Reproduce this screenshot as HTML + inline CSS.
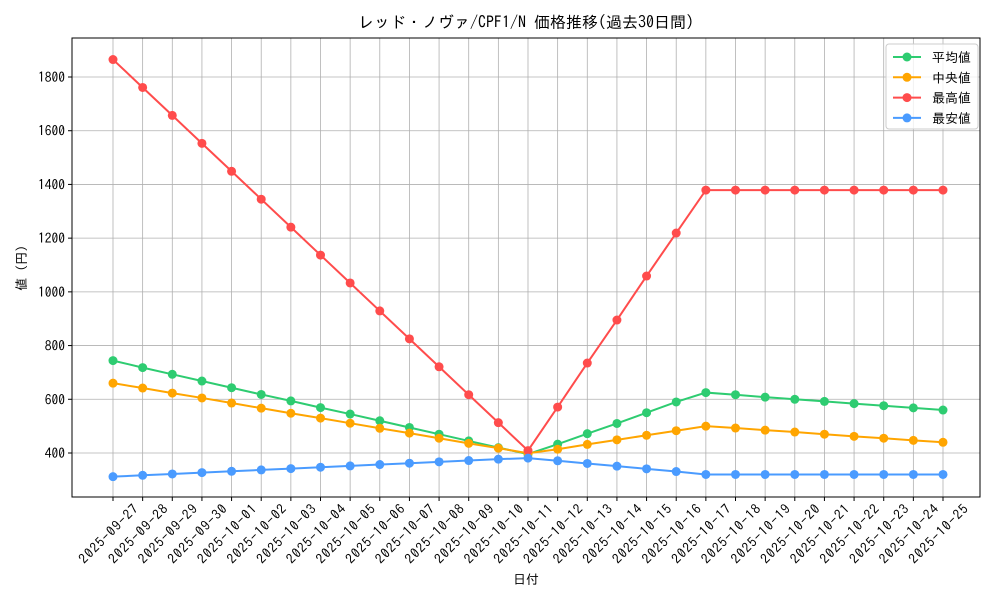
<!DOCTYPE html>
<html><head><meta charset="utf-8"><style>
body{margin:0;background:#fff}
svg text{font-family:"IPAGothic","Noto Sans CJK JP",sans-serif;fill:#000}
</style></head><body>
<svg id="c" width="1000" height="600"></svg>
<script>
const dates=["2025-09-27","2025-09-28","2025-09-29","2025-09-30","2025-10-01","2025-10-02","2025-10-03","2025-10-04","2025-10-05","2025-10-06","2025-10-07","2025-10-08","2025-10-09","2025-10-10","2025-10-11","2025-10-12","2025-10-13","2025-10-14","2025-10-15","2025-10-16","2025-10-17","2025-10-18","2025-10-19","2025-10-20","2025-10-21","2025-10-22","2025-10-23","2025-10-24","2025-10-25"];
const avgVals=[744,718,693,668,643,618,594,569,545,520,495,470,445,420,396,433,472,510,550,590,625,617,608,600,592,584,576,568,560];
const medVals=[660,642,623,605,586,567,548,530,511,492,474,455,436,418,399,414,432,449,466,483,500,493,485,478,470,462,455,447,440];
const maxVals=[1865,1761,1657,1553,1449,1345,1241,1137,1033,929,825,721,617,513,409,571,735,895,1059,1219,1379,1379,1379,1379,1379,1379,1379,1379,1379];
const minVals=[312,317,322,327,332,337,342,347,352,357,362,367,372,377,381,371,361,351,341,331,320,320,320,320,320,320,320,320,320];
const yTicks=[400,600,800,1000,1200,1400,1600,1800];
const seriesNames=["平均値","中央値","最高値","最安値"];
const NS="http://www.w3.org/2000/svg";
const svg=document.getElementById('c');
const L=72,R=980,T=38,B=497;
const x=i=>113+i*(943-113)/(dates.length-1);
const y=v=>453-(v-400)*(453-77)/1400;
function mk(t,a,p){const e=document.createElementNS(NS,t);for(const k in a)e.setAttribute(k,a[k]);(p||svg).appendChild(e);return e;}
yTicks.forEach(v=>{
 const g=mk('line',{x1:L,x2:R,y1:y(v),y2:y(v),stroke:'#b0b0b0','stroke-width':0.8});
 
 
 mk('line',{x1:L-4,x2:L,y1:y(v),y2:y(v),stroke:'#000'});
 const t=mk('text',{x:L-7,y:y(v)+5,'text-anchor':'end','font-size':13.5});t.textContent=v;
 
 
});
dates.forEach((d,i)=>{
 const g=mk('line',{x1:x(i),x2:x(i),y1:T,y2:B,stroke:'#b0b0b0','stroke-width':0.8});
 
 
 mk('line',{x1:x(i),x2:x(i),y1:B,y2:B+4,stroke:'#000'});
 const ax=x(i)+26,ay=B+13;
 const t=mk('text',{x:ax,y:ay,'text-anchor':'end','font-size':13.5,textLength:77,lengthAdjust:'spacing',transform:`rotate(-45 ${ax} ${ay})`});t.textContent=d;
 
 
});
const fr=mk('rect',{x:L,y:T,width:R-L,height:B-T,fill:'none',stroke:'#000','stroke-width':1});


const series=[[avgVals,'#2ecc71'],[medVals,'#ffa500'],[maxVals,'#ff4c4c'],[minVals,'#4a9bff']];
series.forEach(([vals,col],si)=>{
 const g=mk('g',{});
 
 
 mk('polyline',{points:vals.map((v,i)=>x(i)+','+y(v)).join(' '),fill:'none',stroke:col,'stroke-width':2},g);
 vals.forEach((v,i)=>{const c=mk('circle',{cx:x(i),cy:y(v),r:4.5,fill:col},g);
  
  });
});
const lg=mk('g',{});


mk('rect',{x:886,y:44,width:92,height:85,rx:3,fill:'#fff',stroke:'#ccc','fill-opacity':0.8},lg);
seriesNames.forEach((n,i)=>{
 const yy=57+i*20.3,col=series[i][1];
 const e=mk('g',{},lg);
 
 
 mk('line',{x1:893,x2:921,y1:yy,y2:yy,stroke:col,'stroke-width':2},e);
 mk('circle',{cx:907,cy:yy,r:4.5,fill:col},e);
 const t=mk('text',{x:932,y:yy+5,'font-size':13},e);t.textContent=n;
});
const tt=mk('text',{x:526,y:28,'text-anchor':'middle','font-size':16});tt.textContent='レッド・ノヴァ/CPF1/N 価格推移(過去30日間)';


const xt=mk('text',{x:526,y:584,'text-anchor':'middle','font-size':13});xt.textContent='日付';


const yt=mk('text',{x:26,y:268,'text-anchor':'middle','font-size':13,transform:'rotate(-90 26 268)'});yt.textContent='値 (円)';


</script>
</body></html>
